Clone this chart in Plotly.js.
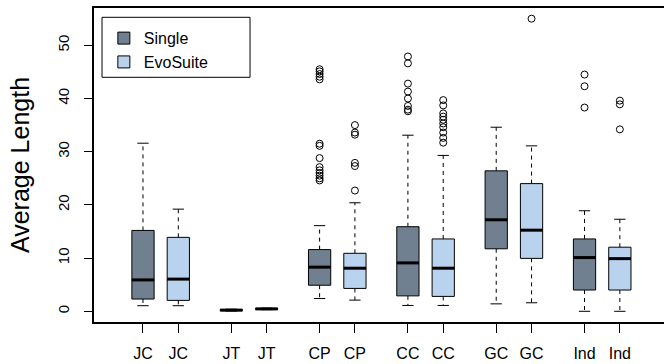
<!DOCTYPE html>
<html>
<head>
<meta charset="utf-8">
<script src="https://cdn.plot.ly/plotly-3.0.1.min.js"></script>
<style>html,body{margin:0;padding:0;background:#fff;}#chart{width:664px;height:364px;}</style>
</head>
<body>
<div id="chart"></div>
<script>
// ---- data ----
var categories = ['JC', 'JT', 'CP', 'CC', 'GC', 'Ind'];
var seriesNames = ['Single', 'EvoSuite'];

var singleQ1  = [2.3, 0.12, 4.9, 2.9, 11.75, 4.0];
var singleMed = [5.9, 0.22, 8.3, 9.1, 17.2, 10.1];
var singleQ3  = [15.2, 0.32, 11.6, 15.9, 26.4, 13.6];
var singleLo  = [1.05, 0.05, 2.4, 1.1, 1.4, 0.0];
var singleHi  = [31.6, 0.4, 16.1, 33.1, 34.6, 18.9];
var singleOut = [
  [],
  [],
  [43.6, 44.1, 44.6, 45.1, 45.5, 31.1, 31.5, 28.8, 27.1, 26.5, 26.0, 25.5, 25.0, 24.6],
  [47.9, 46.6, 42.8, 41.3, 40.0, 38.6, 37.9, 37.6],
  [],
  [44.5, 42.3, 38.3]
];

var evoQ1  = [2.05, 0.35, 4.3, 2.8, 9.95, 4.0];
var evoMed = [6.05, 0.45, 8.1, 8.1, 15.25, 9.9];
var evoQ3  = [13.9, 0.55, 10.9, 13.6, 24.0, 12.05];
var evoLo  = [1.05, 0.3, 2.1, 1.1, 1.6, 0.0];
var evoHi  = [19.2, 0.6, 20.4, 29.3, 31.1, 17.3];
var evoOut = [
  [],
  [],
  [22.7, 27.3, 27.9, 33.2, 33.6, 35.0],
  [39.7, 38.7, 37.2, 36.6, 36.0, 35.3, 34.6, 33.6, 32.6, 31.7],
  [55.0],
  [39.6, 38.9, 34.2]
];

var yTicks = [0, 10, 20, 30, 40, 50];

// ---- styling / layout constants ----
var colors = ['#708090', '#b9d3ee'];
var groupStep = 2.5, boxW = 0.63, stapleW = 0.32;

function buildSeries(s, q1, med, q3, lo, hi, out) {
  var bx = [], by = [], mx = [], my = [], wx = [], wy = [], sx = [], sy = [], ox = [], oy = [];
  for (var g = 0; g < categories.length; g++) {
    var p = g * groupStep + s;
    var a = p - boxW / 2, b = p + boxW / 2;
    bx.push(a, b, b, a, a, null); by.push(q1[g], q1[g], q3[g], q3[g], q1[g], null);
    mx.push(a, b, null); my.push(med[g], med[g], null);
    wx.push(p, p, null, p, p, null); wy.push(q3[g], hi[g], null, q1[g], lo[g], null);
    sx.push(p - stapleW / 2, p + stapleW / 2, null, p - stapleW / 2, p + stapleW / 2, null);
    sy.push(hi[g], hi[g], null, lo[g], lo[g], null);
    for (var k = 0; k < out[g].length; k++) { ox.push(p); oy.push(out[g][k]); }
  }
  return [
    {x: wx, y: wy, mode: 'lines', line: {color: '#000', width: 1, dash: '4px,4px'}, showlegend: false, hoverinfo: 'skip'},
    {x: sx, y: sy, mode: 'lines', line: {color: '#000', width: 1}, showlegend: false, hoverinfo: 'skip'},
    {x: bx, y: by, mode: 'lines', fill: 'toself', fillcolor: colors[s], line: {color: '#000', width: 1}, showlegend: false, hoverinfo: 'skip'},
    {x: mx, y: my, mode: 'lines', line: {color: '#000', width: 3}, showlegend: false, hoverinfo: 'skip'},
    {x: ox, y: oy, mode: 'markers', marker: {symbol: 'circle-open', size: 7, color: '#000', line: {width: 1, color: '#000'}}, showlegend: false, hoverinfo: 'skip'},
    {x: [null], y: [null], mode: 'markers', name: seriesNames[s], marker: {symbol: 'square', size: 12, color: colors[s], line: {color: '#000', width: 1}}, showlegend: true}
  ];
}

var traces = [].concat(
  buildSeries(0, singleQ1, singleMed, singleQ3, singleLo, singleHi, singleOut),
  buildSeries(1, evoQ1, evoMed, evoQ3, evoLo, evoHi, evoOut)
);

var tickVals = [], tickText = [];
for (var g = 0; g < categories.length; g++) {
  tickVals.push(g * groupStep, g * groupStep + 1);
  tickText.push(categories[g], categories[g]);
}

var layout = {
  width: 664, height: 364,
  margin: {l: 93, r: 0, t: 7, b: 41, pad: 0},
  paper_bgcolor: '#fff', plot_bgcolor: '#fff',
  font: {family: 'Liberation Sans, Arial, sans-serif', color: '#000'},
  showlegend: true,
  legend: {x: 0.019, xanchor: 'left', y: 0.955, yanchor: 'top', bgcolor: 'rgba(0,0,0,0)', borderwidth: 0, font: {size: 16}, itemclick: false},
  xaxis: {
    range: [-1.415, 14.75], showgrid: false, zeroline: false, showline: false,
    tickmode: 'array', tickvals: tickVals, ticktext: tickText,
    ticks: 'outside', ticklen: 9, tickwidth: 1, tickcolor: '#000',
    tickfont: {size: 16}, ticklabelstandoff: 7, fixedrange: true
  },
  yaxis: {
    range: [-2.2, 57.2], showgrid: false, zeroline: false, showline: false,
    tickmode: 'array', tickvals: yTicks, ticktext: yTicks.map(String),
    ticks: 'outside', ticklen: 8, tickwidth: 1, tickcolor: '#000',
    tickangle: -90, tickfont: {size: 15}, ticklabelstandoff: 9,
    title: {text: 'Average Length', font: {size: 25}, standoff: 18},
    automargin: true, fixedrange: true
  },
  shapes: [
    {type: 'rect', xref: 'paper', yref: 'paper', x0: 0, x1: 1.05, y0: 0, y1: 1, line: {color: '#000', width: 2}, layer: 'above'},
    {type: 'rect', xref: 'paper', yref: 'paper', x0: 0.0158, x1: 0.275, y0: 0.7775, y1: 0.9674, line: {color: '#000', width: 1}, layer: 'above'}
  ]
};

Plotly.newPlot('chart', traces, layout, {displayModeBar: false, staticPlot: true});
</script>
</body>
</html>
